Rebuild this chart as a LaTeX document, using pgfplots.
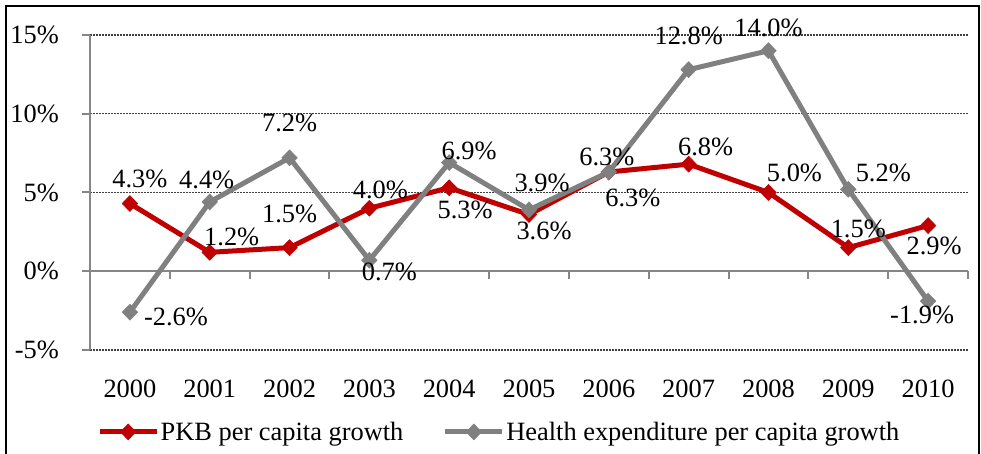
\documentclass[border=0pt]{standalone}
\usepackage{pgfplots}
\pgfplotsset{compat=1.18}
\usepackage{pgfplotstable}
\usepackage{fontspec}
\setmainfont{Liberation Serif}
\definecolor{pkbred}{RGB}{192,0,0}
\definecolor{hgray}{RGB}{128,128,128}
\definecolor{axgray}{RGB}{134,134,134}

\pgfplotstableread{
x y lab dx dy
0 4.3 4.3 10 25
1 1.2 1.2 22 15
2 1.5 1.5 0 34
3 4.0 4.0 11 18
4 5.3 5.3 16 -22
5 3.6 3.6 15 -16
6 6.3 6.3 24 -26
7 6.8 6.8 17 17
8 5.0 5.0 26 20
9 1.5 1.5 10 19
10 2.9 2.9 6 -20
}\pkb

\pgfplotstableread{
x y lab dx dy
0 -2.6 -2.6 46 -5
1 4.4 4.4 -3 22
2 7.2 7.2 0 35
3 0.7 0.7 20 -12
4 6.9 6.9 20 12
5 3.9 3.9 13 27
6 6.3 6.3 -2 15
7 12.8 12.8 0 34
8 14.0 14.0 0 23
9 5.2 5.2 35 16
10 -1.9 -1.9 -6 -14
}\health

\begin{document}
\begin{tikzpicture}[x=1bp,y=1bp,font=\fontsize{26.5}{30}\selectfont]
\useasboundingbox (0,0) rectangle (981,454);
\draw[line width=2bp] (6,-10) rectangle (979,448);
\begin{axis}[
  at={(90bp,104bp)}, anchor=south west,
  scale only axis, width=878bp, height=315bp,
  xmin=-0.5, xmax=10.5, ymin=-5, ymax=15,
  clip=false,
  axis y line*=left, axis x line*=bottom,
  x axis line style={draw=none},
  y axis line style={draw=axgray, line width=2.5bp},
  xtick={0,...,10},
  xticklabels={2000,2001,2002,2003,2004,2005,2006,2007,2008,2009,2010},
  xtick style={draw=none},
  xticklabel style={inner sep=0pt, anchor=north, yshift=-22bp},
  ytick={-5,0,5,10,15},
  yticklabels={-5\%,0\%,5\%,10\%,15\%},
  yticklabel style={inner sep=0pt, anchor=east, xshift=-23bp},
  ytick style={draw=axgray, line width=2bp},
  tick align=outside, major tick length=8bp,
  ymajorgrids,
  major grid style={draw=black!75, line width=1.3bp, dash pattern=on 1.5bp off 1.5bp},
  legend columns=2,
  legend style={draw=none, fill=none, at={(0.4658,-0.26)}, anchor=center,
    /tikz/every even column/.append style={column sep=38bp},
    nodes={inner sep=1.5bp}},
  legend image code/.code={
    \draw[mark repeat=2,mark phase=2] plot coordinates {(0bp,0bp) (28.5bp,0bp) (57bp,0bp)};
  },
]
% zero line and category ticks
\draw[draw=axgray, line width=2.5bp] (axis cs:-0.5,0) -- (axis cs:10.5,0);
\pgfplotsinvokeforeach{0.5,1.5,2.5,3.5,4.5,5.5,6.5,7.5,8.5,9.5,10.5}{
  \draw[draw=axgray, line width=2bp] (axis cs:#1,0) -- (axis cs:#1,-0.5);
}
\addplot[pkbred, line width=5bp, mark=diamond*, mark size=8bp,
  mark options={solid, line width=0.5bp, xscale=1.3},
  nodes near coords={\pgfplotspointmeta\%},
  point meta=explicit symbolic,
  visualization depends on={\thisrow{dx} \as \labdx},
  visualization depends on={\thisrow{dy} \as \labdy},
  every node near coord/.append style={text=black, anchor=center, inner sep=0pt, xshift=\labdx bp, yshift=\labdy bp}]
  table[x=x, y=y, meta=lab] {\pkb};
\addlegendentry{PKB per capita growth}
\addplot[hgray, line width=5bp, mark=diamond*, mark size=8bp,
  mark options={solid, line width=0.5bp, xscale=1.3},
  nodes near coords={\pgfplotspointmeta\%},
  point meta=explicit symbolic,
  visualization depends on={\thisrow{dx} \as \labdx},
  visualization depends on={\thisrow{dy} \as \labdy},
  every node near coord/.append style={text=black, anchor=center, inner sep=0pt, xshift=\labdx bp, yshift=\labdy bp}]
  table[x=x, y=y, meta=lab] {\health};
\addlegendentry{Health expenditure per capita growth}
\end{axis}
\end{tikzpicture}
\end{document}
